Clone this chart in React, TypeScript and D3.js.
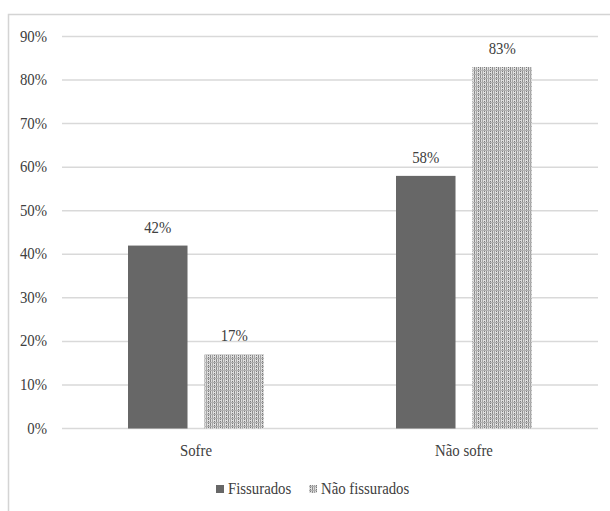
import React from "react";
import * as d3 from "d3";

const categories = ["Sofre", "Não sofre"];
const seriesNames = ["Fissurados", "Não fissurados"];
const fissurados = [0.42, 0.58];
const naoFissurados = [0.17, 0.83];
const yTicks = [0, 0.1, 0.2, 0.3, 0.4, 0.5, 0.6, 0.7, 0.8, 0.9];

const W = 610;
const H = 511;
const FONT = "Liberation Serif";
const SX = 0.87;

function T({ x, y, anchor, size, children }: any) {
  return (
    <text
      transform={`translate(${x},${y}) scale(${SX},1)`}
      textAnchor={anchor}
      style={{ fontFamily: FONT, fontSize: size }}
      fill="#404040"
    >
      {children}
    </text>
  );
}

export default function App() {
  const left = 62;
  const right = 598;
  const x0 = d3.scaleBand<string>().domain(categories).range([left, right]);
  const x1 = d3.scaleBand<string>().domain(seriesNames).range([0, x0.bandwidth()]).paddingInner(0.222).paddingOuter(0.863);
  const y = d3.scaleLinear().domain([0, 0.9]).range([428.5, 36.5]);
  const series = [fissurados, naoFissurados];
  const fills = ["#676767", "url(#chk)"];

  return (
    <svg width={W} height={H} style={{ position: "absolute", left: 0, top: 0 }}>
      <defs>
        <pattern id="chk" width="6" height="4" patternUnits="userSpaceOnUse">
          <rect width="6" height="4" fill="#dedede" />
          <rect x="0" y="0" width="1" height="4" fill="#8c8c8c" />
          <rect x="2" y="0" width="1" height="4" fill="#a5a5a5" />
          <rect x="4" y="1" width="1" height="1" fill="#7a7a7a" />
          <rect x="4" y="3" width="1" height="1" fill="#7a7a7a" />
          <rect x="0" y="2" width="6" height="1" fill="#b2b2b2" />
        </pattern>
      </defs>
      <rect x={0} y={0} width={W} height={H} fill="#fff" />
      <rect x={8.5} y={14.5} width={W + 10} height={H + 10} fill="none" stroke="#d4d4d4" strokeWidth={1.5} />
      {yTicks.map((t) => (
        <g key={t}>
          <line x1={left} x2={right} y1={y(t)} y2={y(t)} stroke="#d9d9d9" strokeWidth={1.5} />
          <T x={left - 15} y={y(t) + 5} anchor="end" size={17}>
            {`${Math.round(t * 100)}%`}
          </T>
        </g>
      ))}
      {categories.map((c, ci) => (
        <g key={c}>
          {seriesNames.map((s, si) => {
            const v = series[si][ci];
            const bx = (x0(c) as number) + (x1(s) as number);
            return (
              <g key={s}>
                <rect x={bx} y={y(v)} width={x1.bandwidth()} height={y(0) - y(v)} fill={fills[si]} />
                <T x={bx + x1.bandwidth() / 2} y={y(v) - 13} anchor="middle" size={17}>
                  {`${Math.round(v * 100)}%`}
                </T>
              </g>
            );
          })}
          <T x={(x0(c) as number) + x0.bandwidth() / 2} y={456} anchor="middle" size={17}>
            {c}
          </T>
        </g>
      ))}
      <g>
        <rect x={216} y={485} width={8} height={8} fill="#676767" />
        <T x={228} y={494} anchor="start" size={17}>{seriesNames[0]}</T>
        <rect x={309} y={485} width={8} height={8} fill="url(#chk)" />
        <T x={321} y={494} anchor="start" size={17}>{seriesNames[1]}</T>
      </g>
    </svg>
  );
}
